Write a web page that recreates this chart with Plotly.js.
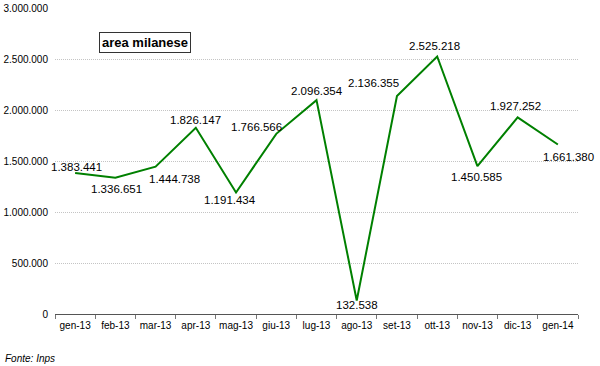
<!DOCTYPE html>
<html>
<head>
<meta charset="utf-8">
<script src="https://cdn.plot.ly/plotly-3.0.1.min.js"></script>
<style>html,body{margin:0;padding:0;background:#fff;}#chart{width:600px;height:366px;}</style>
</head>
<body>
<div id="chart"></div>
<script>
// Data
var months = ["gen-13","feb-13","mar-13","apr-13","mag-13","giu-13","lug-13","ago-13","set-13","ott-13","nov-13","dic-13","gen-14"];
var values = [1383441,1336651,1444738,1826147,1191434,1766566,2096354,132538,2136355,2525218,1450585,1927252,1661380];
var yTicks = [0,500000,1000000,1500000,2000000,2500000,3000000];

// Label placement (pixels, relative to the point)
var labelDx = [1,1,19,0,-6,-20,0,0,-23,-3,-1,-2,11];
var labelDy = [6,-11,-12,8,-8,7,9,-5,13,10,-11,11,-12];

function fmt(n){ return String(n).replace(/\B(?=(\d{3})+(?!\d))/g, "."); }

var FONT = "Liberation Sans, Arial, sans-serif";

var annotations = months.map(function(m,i){
  return {x:m, y:values[i], xref:'x', yref:'y', text:fmt(values[i]), showarrow:false,
    xshift:labelDx[i], yshift:labelDy[i], xanchor:'center', yanchor:'middle',
    font:{family:FONT, size:11.5, color:'#000'}};
});
annotations.push({xref:'paper', yref:'paper', x:0.172, y:0.886, text:'<b>area milanese</b>', showarrow:false,
  xanchor:'center', yanchor:'middle', bordercolor:'#333', borderwidth:1, borderpad:2, bgcolor:'#fff',
  font:{family:FONT, size:13, color:'#000'}});
annotations.push({xref:'paper', yref:'paper', x:-0.0994, y:-0.147, text:'<i>Fonte: Inps</i>', showarrow:false,
  xanchor:'left', yanchor:'middle', font:{family:FONT, size:10, color:'#000'}});

var trace = {x:months, y:values, type:'scatter', mode:'lines', line:{color:'#008000', width:2}, hoverinfo:'skip'};

var layout = {
  width:600, height:366,
  margin:{l:55, r:22, t:8, b:52},
  paper_bgcolor:'#fff', plot_bgcolor:'#fff',
  separators:',.',
  showlegend:false,
  font:{family:FONT, size:10, color:'#000'},
  xaxis:{type:'category', range:[-0.5, months.length-0.5], showline:true, linecolor:'#555', linewidth:1,
    ticks:'outside', tickson:'boundaries', ticklen:4, tickcolor:'#777', showgrid:false, zeroline:false,
    tickangle:0, ticklabelstandoff:2, tickfont:{family:FONT, size:10, color:'#000'}, fixedrange:true},
  yaxis:{range:[0,3000000], tickvals:yTicks, ticktext:yTicks.map(fmt), showgrid:true, gridcolor:'#c4c4c4',
    griddash:'1px,1px', gridwidth:1, zeroline:false, showline:false, ticks:'', ticklabelstandoff:6,
    tickfont:{family:FONT, size:10, color:'#000'}, fixedrange:true},
  annotations:annotations
};

Plotly.newPlot('chart',[trace],layout,{displayModeBar:false, staticPlot:true});
</script>
</body>
</html>
